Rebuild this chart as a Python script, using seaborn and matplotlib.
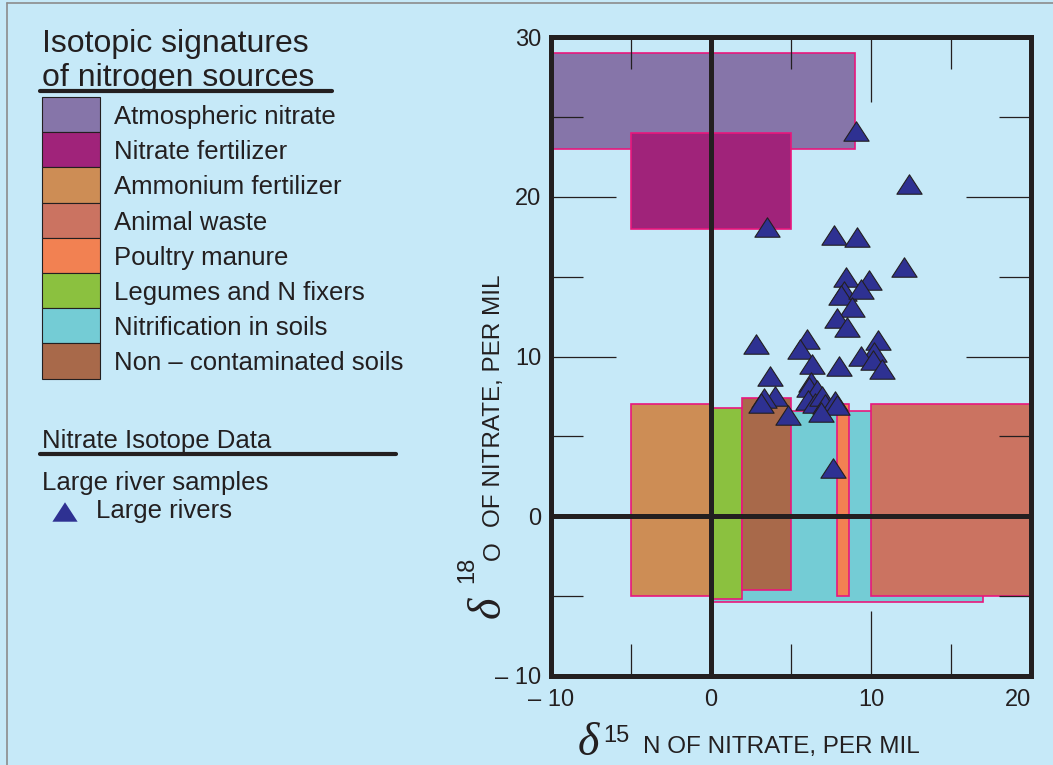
import numpy as np
import pandas as pd
import matplotlib
matplotlib.use("Agg")
import matplotlib.pyplot as plt
import seaborn as sns
from matplotlib.patches import Rectangle
from matplotlib.path import Path
from matplotlib.markers import MarkerStyle

# ---- Isotopic signature boxes of nitrogen sources (per mil) ----
source_names = ["Atmospheric nitrate", "Nitrate fertilizer", "Ammonium fertilizer",
                "Animal waste", "Poultry manure", "Legumes and N fixers",
                "Nitrification in soils", "Non \u2013 contaminated soils"]
source_colors = ["#8675a9", "#a0237a", "#cd8d55", "#cb7361",
                 "#f28152", "#8bc13f", "#74ccd5", "#a8694a"]
n15_low = [-10.0, -5.0, -5.0, 10.0, 7.85, 0.0, 0.0, 1.95]
n15_high = [9.0, 5.0, 0.0, 20.0, 8.6, 1.95, 17.0, 5.0]
o18_low = [23.0, 18.0, -5.0, -5.0, -5.0, -5.2, -5.35, -4.6]
o18_high = [29.0, 24.0, 7.0, 7.0, 7.0, 6.8, 6.6, 7.4]
# stacking order of the boxes (later ones are drawn on top)
draw_order = [0, 1, 6, 2, 5, 7, 4, 3]

# ---- Large river nitrate samples ----
river_d15n = [9.05, 12.4, 3.5, 7.7, 9.1, 12.05, 8.45, 9.85, 8.3, 8.15,
              9.4, 8.8, 7.85, 8.5, 2.8, 6.0, 5.55, 10.45, 10.2, 9.4,
              10.15, 10.7, 6.3, 8.0, 3.7, 4.0, 3.3, 3.1, 4.8, 6.25,
              6.15, 6.6, 6.05, 6.5, 6.95, 7.1, 7.75, 7.85, 6.9, 7.6]
river_d18o = [24.1, 20.8, 18.1, 17.6, 17.5, 15.6, 15.0, 14.8, 14.1, 13.85,
              14.2, 13.1, 12.4, 11.85, 10.8, 11.1, 10.5, 11.05, 10.3, 10.05,
              9.75, 9.2, 9.55, 9.4, 8.75, 7.55, 7.4, 7.1, 6.35, 8.4,
              8.1, 7.9, 7.25, 7.1, 7.55, 7.05, 7.2, 6.95, 6.5, 3.05]

x_ticks = [-10, 0, 10, 20]
x_ticklabels = ["\u2013 10", "0", "10", "20"]
y_ticks = [-10, 0, 10, 20, 30]
y_ticklabels = ["\u2013 10", "0", "10", "20", "30"]

BG = "#c6e9f8"
INK = "#231f20"
EDGE = "#e8177d"
TRI = "#2e3192"

sns.set_style("white")
plt.rcParams["font.family"] = ["Liberation Sans", "DejaVu Sans"]

W, H = 1053, 765
fig = plt.figure(figsize=(W / 100, H / 100), dpi=100, facecolor=BG)

# overlay in pixel units for the key panel, frame and axis titles
deco = fig.add_axes([0, 0, 1, 1], zorder=0)
deco.set_xlim(0, W)
deco.set_ylim(H, 0)
deco.axis("off")
deco.patch.set_alpha(0)

ax = fig.add_axes([551 / W, (H - 676) / H, 480 / W, 639 / H], zorder=1)
ax.set_facecolor(BG)
ax.set_axisbelow(False)

for i in draw_order:
    ax.add_patch(Rectangle((n15_low[i], o18_low[i]),
                           n15_high[i] - n15_low[i], o18_high[i] - o18_low[i],
                           facecolor=source_colors[i], edgecolor=EDGE,
                           linewidth=1.2, zorder=1))

ax.axvline(0, color=INK, lw=3.6, zorder=2)
ax.axhline(0, color=INK, lw=3.6, zorder=2)

tri = MarkerStyle(Path([(0, 0.77), (-1, -0.77), (1, -0.77), (0, 0.77)], closed=True))
rivers = pd.DataFrame({"d15N": river_d15n, "d18O": river_d18o})
sns.scatterplot(data=rivers, x="d15N", y="d18O", ax=ax, marker=tri, s=330,
                color=TRI, edgecolor=INK, linewidth=0.8, zorder=5, legend=False)

ax.set_xlim(-10, 20)
ax.set_ylim(-10, 30)
ax.set_xlabel("")
ax.set_ylabel("")
ax.set_xticks(x_ticks)
ax.set_xticklabels(x_ticklabels)
ax.set_yticks(y_ticks)
ax.set_yticklabels(y_ticklabels)
ax.set_xticks([-5, 5, 15], minor=True)
ax.set_yticks([-5, 5, 15, 25], minor=True)
ax.tick_params(which="both", bottom=True, top=True, left=True, right=True)
ax.tick_params(which="major", direction="in", length=47, width=0.9, color=INK,
               labelsize=17, labelcolor=INK)
ax.tick_params(axis="x", which="major", pad=9)
ax.tick_params(axis="y", which="major", pad=7)
ax.tick_params(which="minor", direction="in", length=23, width=0.9, color=INK)
ax.get_xticklabels()[-1].set_horizontalalignment("right")
ax.get_xticklabels()[-1].set_x(20)
for sp in ax.spines.values():
    sp.set_linewidth(3.6)
    sp.set_color(INK)
    sp.set_visible(True)
    sp.set_zorder(6)

# axis titles
serif_it = dict(family=["Liberation Serif", "DejaVu Serif"], style="italic", fontsize=33, color=INK)
deco.text(578, 755, "\u03b4", va="baseline", ha="left", **serif_it)
deco.text(603, 742, "15", va="baseline", ha="left", fontsize=17, color=INK)
deco.text(643, 753, "N OF NITRATE, PER MIL", va="baseline", ha="left", fontsize=17.5, color=INK)
rot = dict(rotation=90, rotation_mode="anchor", va="baseline", ha="left")
deco.text(500, 618, "\u03b4", **rot, **serif_it)
deco.text(473, 583, "18", fontsize=17, color=INK, **rot)
deco.text(500, 560, "O", fontsize=17.5, color=INK, **rot)
deco.text(500, 527, "OF NITRATE, PER MIL", fontsize=17.5, color=INK, **rot)

# key panel
deco.text(42, 52, "Isotopic signatures", fontsize=23, color=INK, va="baseline")
deco.text(42, 86, "of nitrogen sources", fontsize=23, color=INK, va="baseline")
deco.plot([40, 332], [91, 91], color=INK, lw=3, solid_capstyle="round")
sw_top, sw_h = 97, 35.2
for i, (name, col) in enumerate(zip(source_names, source_colors)):
    y0 = sw_top + sw_h * i
    deco.add_patch(Rectangle((42, y0), 58, sw_h, facecolor=col, edgecolor=INK, linewidth=0.8))
    deco.text(114, y0 + 27, name, fontsize=18.5, color=INK, va="baseline")

deco.text(42, 448, "Nitrate Isotope Data", fontsize=18.5, color=INK, va="baseline")
deco.plot([40, 396], [454, 454], color=INK, lw=3, solid_capstyle="round")
deco.text(42, 490, "Large river samples", fontsize=18.5, color=INK, va="baseline")
deco.scatter([65], [512], marker=tri, s=330, color=TRI, edgecolor="none")
deco.text(96, 518, "Large rivers", fontsize=18.5, color=INK, va="baseline")

# thin frame on the top and left of the figure
deco.plot([7, 7], [3, H], color="#8c8c8c", lw=1.2)
deco.plot([7, W], [3, 3], color="#8c8c8c", lw=1.2)

fig.savefig("out.png", dpi=100, facecolor=BG)
